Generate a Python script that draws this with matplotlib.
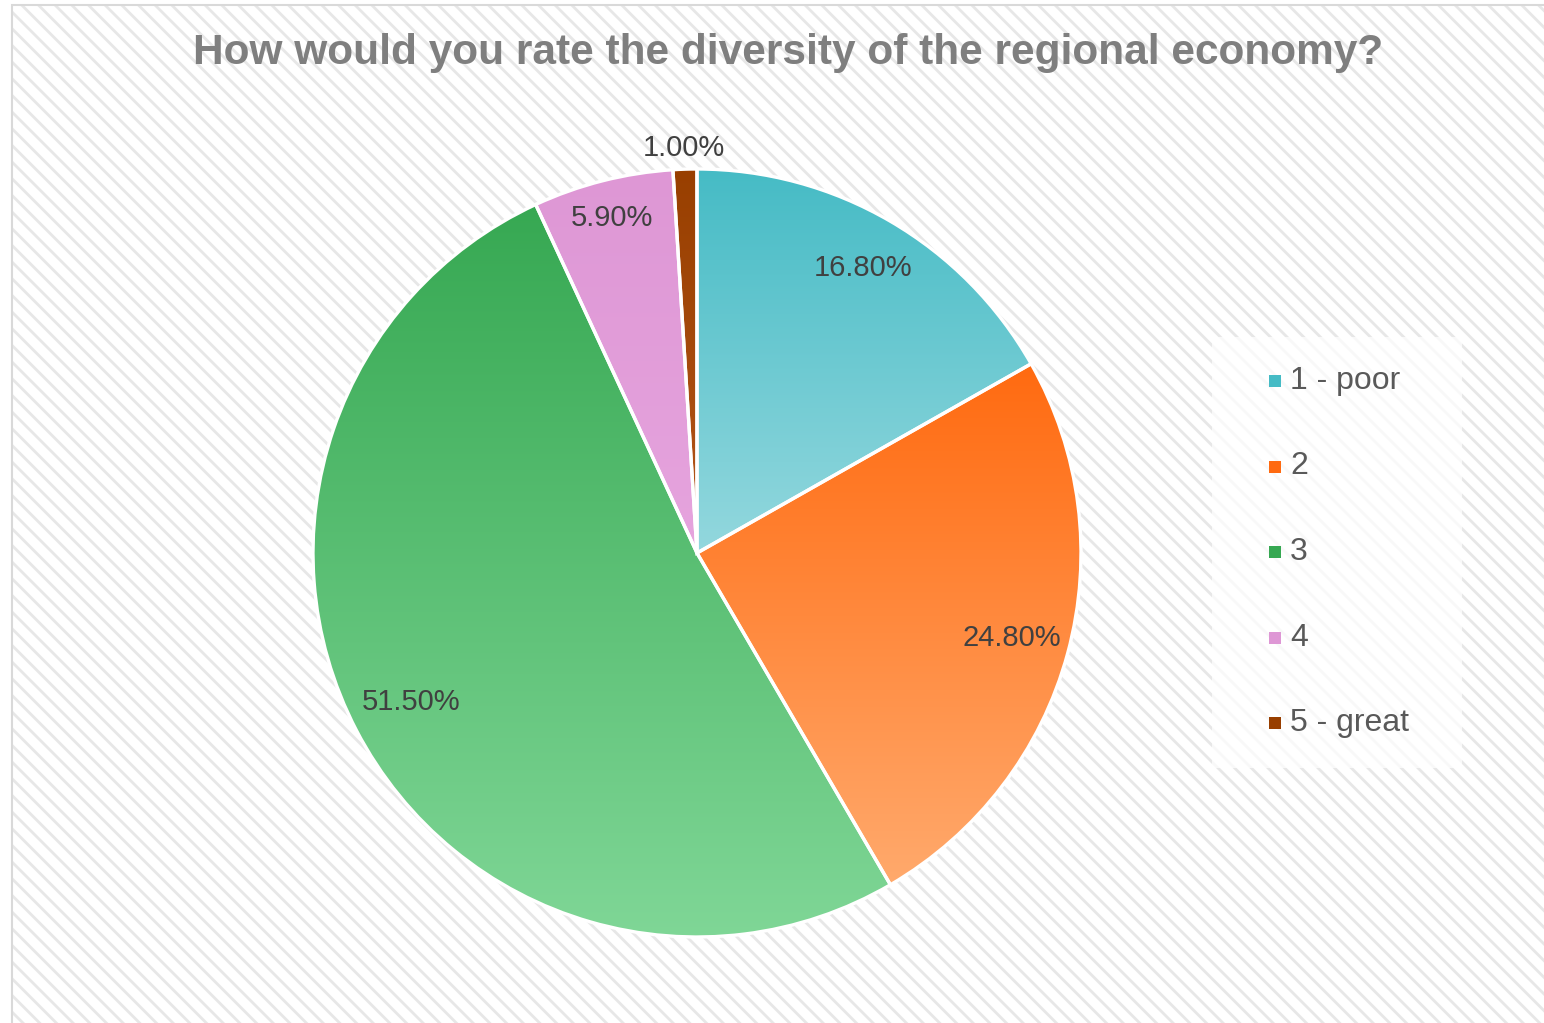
import numpy as np
import matplotlib.pyplot as plt
from matplotlib.patches import Rectangle
from matplotlib.colors import LinearSegmentedColormap

plt.rcParams['font.family'] = ['Liberation Sans', 'DejaVu Sans']
plt.rcParams['hatch.linewidth'] = 2.0

title = 'How would you rate the diversity of the regional economy?'
categories = ['1 - poor', '2', '3', '4', '5 - great']
shares = [16.8, 24.8, 51.5, 5.9, 1.0]
# top / bottom colours of each slice gradient
top_colors = ['#45BBC5', '#FF6A10', '#36A852', '#DE97D5', '#983F00']
bottom_colors = ['#94D8DE', '#FFAA6D', '#80D797', '#E6A4DE', '#B4561A']

W, H = 1544, 1023
fig = plt.figure(figsize=(W / 100, H / 100), dpi=100)

# hatched chart area background and its border
bg = Rectangle((12 / W, -0.01), 1.02, 1 - 5 / H + 0.01, transform=fig.transFigure,
               facecolor='white', edgecolor='#E7E7E7', hatch='\\\\', linewidth=0,
               zorder=-10)
fig.patches.append(bg)
border = Rectangle((12 / W, -0.01), 1.02, 1 - 5 / H + 0.01, transform=fig.transFigure,
                   facecolor='none', edgecolor='#D9D9D9', linewidth=1.5, zorder=-9)
fig.patches.append(border)

# legend area
leg_box = Rectangle((1212 / W, 1 - 768 / H), 250 / W, 431 / H, transform=fig.transFigure,
                    facecolor='white', alpha=0.75, edgecolor='none', zorder=-8)
fig.patches.append(leg_box)

fig.text(788 / W, 1 - 53 / H, title, ha='center', va='center', fontsize=30.5,
         fontweight='bold', color='#7F7F7F')

cx, cy, r = 697, 553, 384
ax = fig.add_axes([(cx - r) / W, 1 - (cy + r) / H, 2 * r / W, 2 * r / H])
ax.patch.set_visible(False)
wedges, _ = ax.pie(shares, startangle=90, counterclock=False, radius=1,
                   wedgeprops=dict(edgecolor='white', linewidth=2.4, facecolor='none'))
ax.set_aspect('equal')
ax.axis('off')

for w, c0, c1 in zip(wedges, top_colors, bottom_colors):
    verts = w.get_path().vertices
    x0, x1 = verts[:, 0].min(), verts[:, 0].max()
    y0, y1 = verts[:, 1].min(), verts[:, 1].max()
    cmap = LinearSegmentedColormap.from_list('g', [c1, c0])
    grad = np.linspace(0, 1, 256).reshape(-1, 1)
    im = ax.imshow(grad, cmap=cmap, extent=[x0 - 0.01, x1 + 0.01, y0 - 0.01, y1 + 0.01],
                   origin='lower', aspect='auto', zorder=1)
    im.set_clip_path(w)
    w.set_zorder(2)

ax.set_xlim(-1, 1)
ax.set_ylim(-1, 1)

# percentage labels
start = 90.0
label_r = [0.86, 0.85, 0.84, 0.90, 1.055]
for val, lr in zip(shares, label_r):
    mid = np.deg2rad(start - val * 3.6 / 2)
    start -= val * 3.6
    ax.text(lr * np.cos(mid), lr * np.sin(mid), f'{val:.2f}%', ha='center', va='center',
            fontsize=21, color='#404040', clip_on=False, zorder=3)

# legend entries
for i, (name, c0, c1) in enumerate(zip(categories, top_colors, bottom_colors)):
    y = 381 + i * 85.5
    fig.patches.append(Rectangle((1269 / W, 1 - (y + 6) / H), 12 / W, 12 / H,
                                 transform=fig.transFigure, facecolor=c0, edgecolor='none'))
    fig.text(1290 / W, 1 - y / H, name, ha='left', va='center', fontsize=23,
             color='#595959')

fig.savefig('out.png', dpi=100)
